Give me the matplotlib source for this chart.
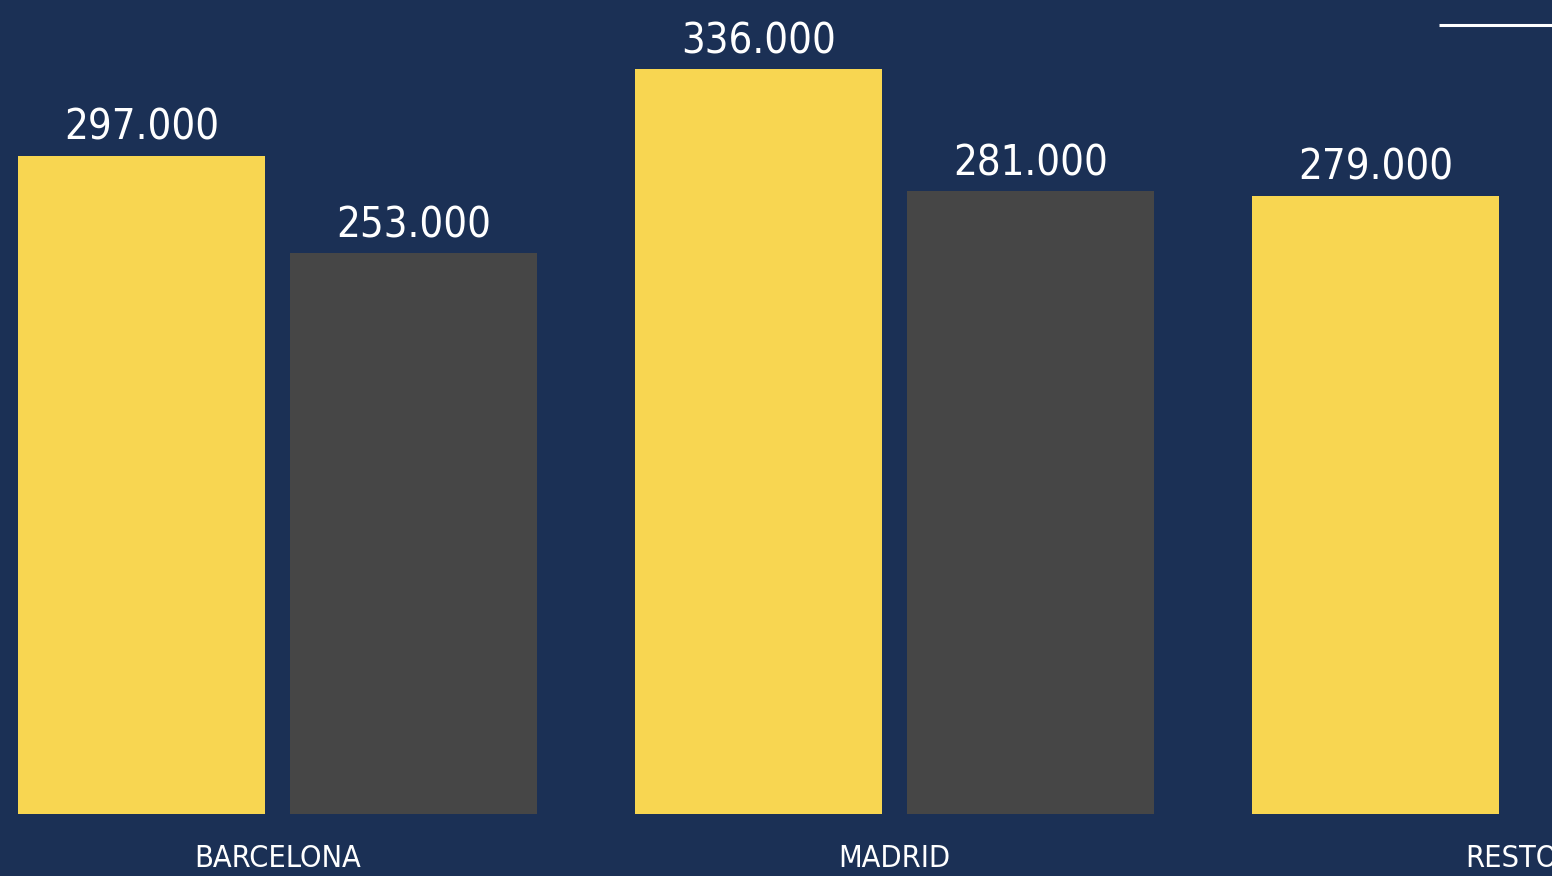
import matplotlib.pyplot as plt
import numpy as np

# === DATA ===
categories = ["BARCELONA", "MADRID", "RESTO"]
serie_a = [297000, 336000, 279000]          # yellow bars
serie_b = [253000, 281000, np.nan]          # gray bars (RESTO not shown)

BG = "#1B3055"
YELLOW = "#F8D651"
GRAY = "#464646"

plt.rcParams['font.family'] = ['DejaVu Sans']
plt.rcParams['font.stretch'] = 'condensed'

fig = plt.figure(figsize=(15.52, 8.76), dpi=100, facecolor=BG)
ax = fig.add_axes([0, 0, 1, 1])
ax.set_facecolor(BG)

x = np.arange(len(categories))
width = 0.401
offset = 0.2205

bars_a = ax.bar(x - offset, serie_a, width, color=YELLOW)
bars_b = ax.bar(x + offset, serie_b, width, color=GRAY)

def fmt(v):
    return f"{v:,.0f}".replace(",", ".")

for bars, vals in [(bars_a, serie_a), (bars_b, serie_b)]:
    for b, v in zip(bars, vals):
        if np.isnan(v):
            continue
        ax.annotate(fmt(v), (b.get_x() + b.get_width() / 2, v),
                    xytext=(0, 11.5), textcoords="offset points",
                    ha="center", va="baseline", color="white", fontsize=30,
                    fontstretch="condensed")

for i, c in enumerate(categories):
    ax.text(i, -20000, c, ha="center", va="center", color="white", fontsize=22,
            fontstretch="condensed")

# fragment of a legend line in the top right corner
ax.plot([0.927, 1.0], [0.9715, 0.9715], transform=ax.transAxes,
        color="white", linewidth=2.2, solid_capstyle="butt", clip_on=False)

ax.set_xlim(-0.4498, 2.0657)
ax.set_ylim(-27970, 367200)
ax.axis("off")

fig.savefig("out.png", dpi=100, facecolor=BG)
